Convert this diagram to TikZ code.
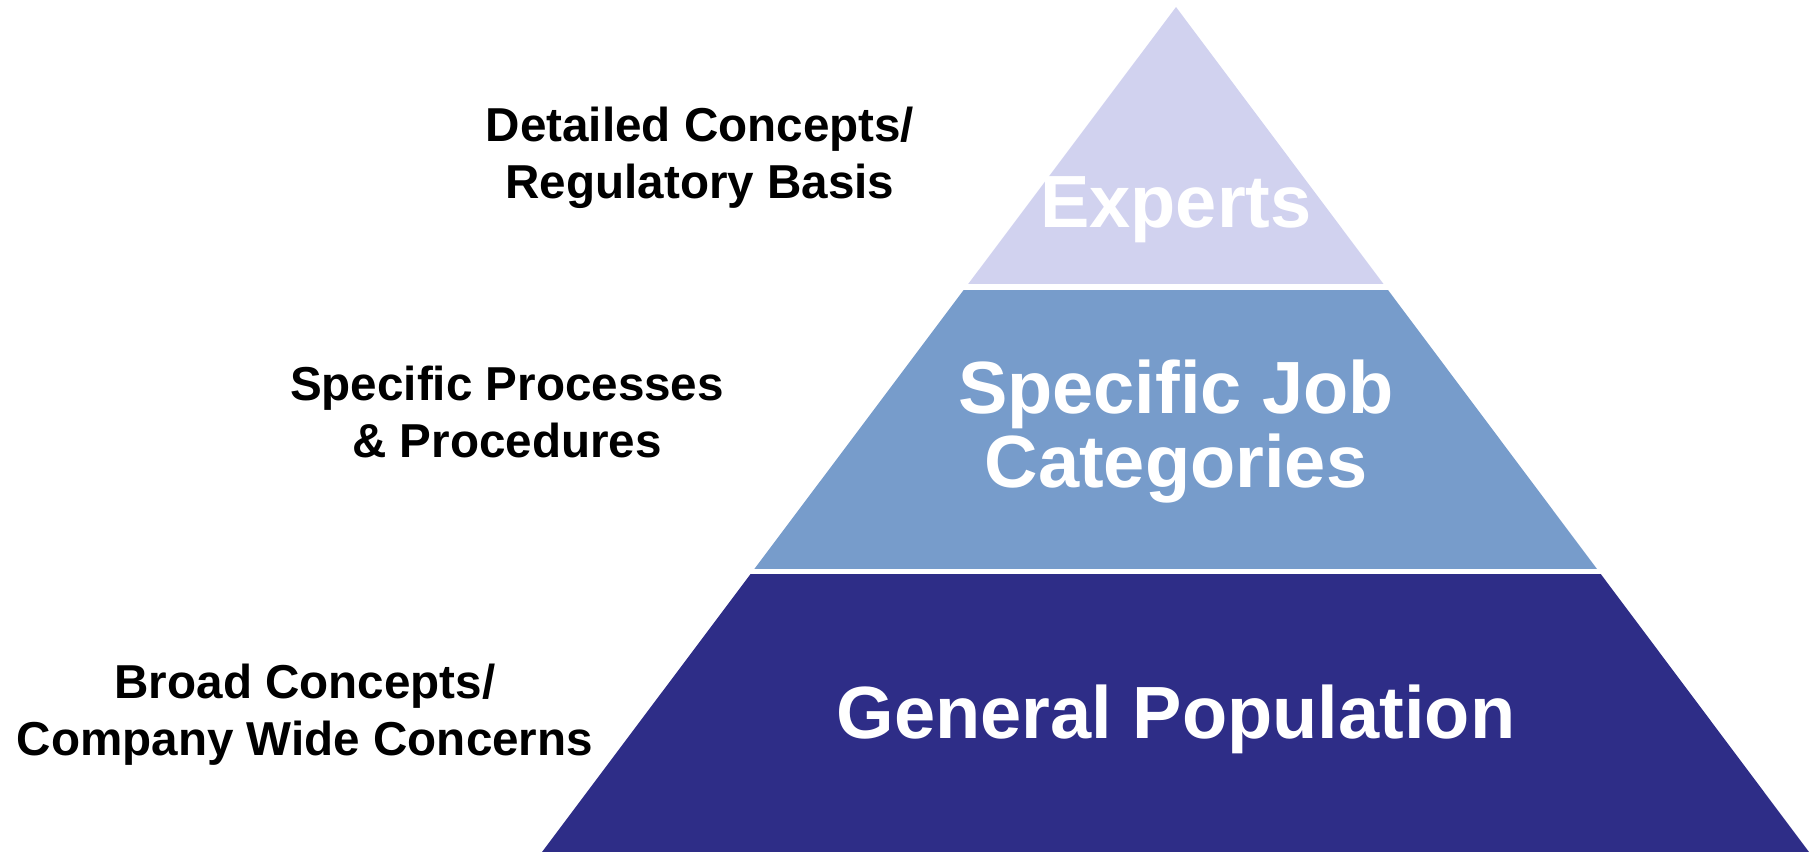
\documentclass[tikz,border=0pt]{standalone}
\usepackage{fontspec}
\setmainfont{Liberation Sans}
\usetikzlibrary{positioning}

\definecolor{expertfill}{RGB}{209,210,239}
\definecolor{jobfill}{RGB}{119,156,203}
\definecolor{popfill}{RGB}{46,45,135}

\begin{document}
\begin{tikzpicture}[x=0.5pt, y=-0.5pt,
  tier/.style={text=white, inner sep=0pt, align=center, font=\fontsize{37}{37}\selectfont\bfseries},
  aside/.style={text=black, inner sep=0pt, align=center, font=\fontsize{23.8}{28.5}\selectfont\bfseries}]
\useasboundingbox (0,0) rectangle (1816,852);

% the pyramid, cut into three tiers
\begin{scope}
\clip (1176,7) -- (1809,852) -- (542,852) -- cycle;
\fill[expertfill] (500,0) rectangle (1816,284);
\fill[jobfill] (500,290) rectangle (1816,569);
\fill[popfill] (500,574) rectangle (1816,852);
\end{scope}

% tier names (base = baseline of the last line)
\node[tier, anchor=base] (experts) at (1176,227) {Experts};
\node[tier, anchor=base] (jobs) at (1176,487) {Specific Job\\Categories};
\node[tier, anchor=base] (general) at (1176,738) {General Population};

% what each tier learns
\node[aside, anchor=base] (detail) at (700,198) {Detailed Concepts/\\Regulatory Basis};
\node[aside, anchor=base] (process) at (507,457) {Specific Processes\\\& Procedures};
\node[aside, anchor=base] (broad) at (305,755) {Broad Concepts/\\Company Wide Concerns};
\end{tikzpicture}
\end{document}
